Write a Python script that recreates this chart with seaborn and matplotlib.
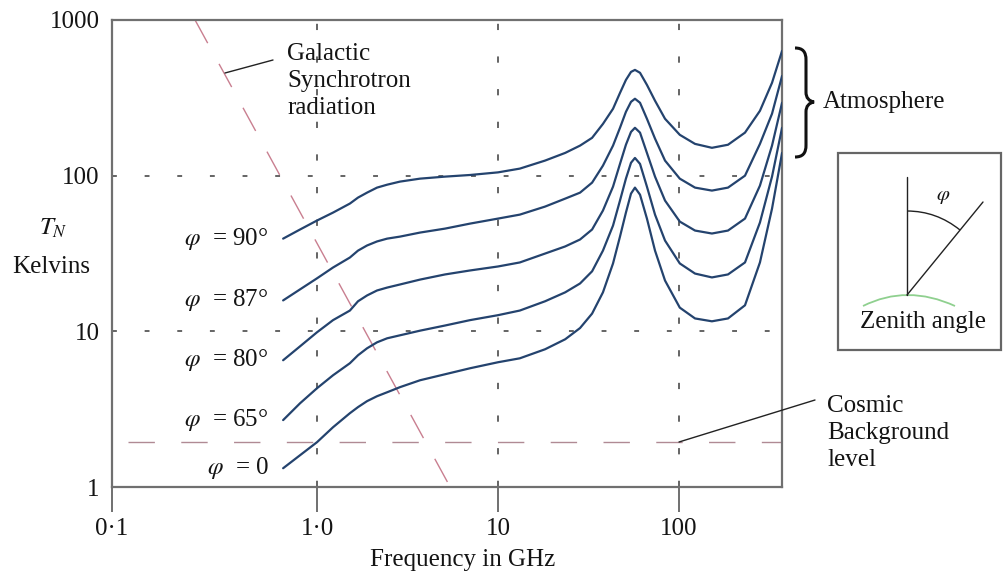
import numpy as np
import pandas as pd
import matplotlib.pyplot as plt
import seaborn as sns
from matplotlib.path import Path
from matplotlib.patches import PathPatch, Rectangle

# frequency points (GHz)
freq = [0.65, 0.806, 1.0, 1.226, 1.52, 1.685, 1.89, 2.146, 2.44, 2.875, 3.71,
        5.10, 7.0, 10.0, 13.2, 18.2, 23.5, 28.4, 33.1, 38.0, 43.2, 47.2, 50.9,
        54.3, 57.1, 60.9, 66.5, 73.7, 83.7, 101, 122.6, 152, 186.5, 231.5,
        280, 326.5, 371]

# sky noise temperature (K) for each zenith angle
temp_90 = [39.4, 45.1, 51.5, 57.9, 66.2, 72.3, 77.8, 83.8, 87.5, 91.6, 95.7,
           98.6, 101, 105, 111, 125, 140, 156, 175, 215, 269, 340, 412,
           464, 478, 458, 383, 303, 232, 183, 160, 151, 158, 189,
           261, 395, 633]
temp_87 = [15.8, 18.6, 21.9, 25.7, 29.8, 33.0, 35.6, 37.8, 39.4, 40.6, 43.1,
           45.7, 49.2, 53.0, 56.2, 63.3, 71.2, 77.8, 90.2, 116, 156, 203, 257,
           298, 312, 294, 232, 173, 125, 95.7, 83.8, 80.2, 83.8, 100,
           160, 250, 437]
temp_80 = [6.52, 8.01, 9.86, 11.8, 13.6, 15.6, 17.0, 18.3, 19.1, 20.0, 21.5,
           23.2, 24.6, 26.1, 27.7, 31.6, 35.1, 38.9, 45.1, 59.7, 85.0, 119, 158,
           191, 203, 189, 140, 98.6, 69.2, 50.7, 44.4, 42.5, 44.4, 53.0,
           86.3, 156, 294]
temp_65 = [2.69, 3.45, 4.31, 5.22, 6.24, 7.02, 7.78, 8.50, 9.02, 9.43, 10.1,
           10.9, 11.8, 12.7, 13.6, 15.6, 17.8, 20.3, 24.3, 33.0, 47.8, 69.2, 95.7,
           121, 130, 119, 85.0, 56.2, 38.3, 27.3, 23.5, 22.2, 23.2, 27.7,
           50.0, 98.6, 203]
temp_0 = [1.32, 1.60, 1.94, 2.42, 2.98, 3.26, 3.56, 3.83, 4.06, 4.38, 4.85,
          5.30, 5.79, 6.33, 6.71, 7.67, 8.89, 10.5, 13.0, 17.8, 27.3, 40.6, 57.9,
          76.7, 83.8, 75.5, 53.0, 33.0, 21.2, 14.2, 12.1, 11.6, 12.1, 14.7,
          27.7, 61.4, 140]

angles = ["90°", "87°", "80°", "65°", "0"]
curves = [temp_90, temp_87, temp_80, temp_65, temp_0]

# galactic synchrotron line and cosmic background level
galactic_freq = [0.212, 5.94]
galactic_temp = [1000, 0.83]
cosmic_freq = [0.09, 371]
cosmic_temp = [1.95, 1.95]

x_ticks = [0.0737, 1, 10, 100]
x_labels = ["0·1", "1·0", "10", "100"]
y_ticks = [1, 10, 100, 1000]
y_labels = ["1", "10", "100", "1000"]

df = pd.concat([pd.DataFrame({"freq": freq, "temp": t, "angle": a})
                for a, t in zip(angles, curves)])

sns.set_style("white")
plt.rcParams["font.family"] = ["Liberation Serif", "DejaVu Serif"]
plt.rcParams["mathtext.fontset"] = "stix"
plt.rcParams["lines.scale_dashes"] = False

line_col = "#24436e"
grid_col = "#3a3a3a"
spine_col = "#707070"
ink = "#141414"

fig = plt.figure(figsize=(10.06, 5.71), dpi=100)
ax = fig.add_axes([112 / 1006, 1 - 487 / 571, 670 / 1006, 467 / 571])
ax.set_xscale("log")
ax.set_yscale("log")
ax.set_xlim(0.0737, 370.7)
ax.set_ylim(1, 1000)

sns.lineplot(data=df, x="freq", y="temp", hue="angle", palette=[line_col] * 5,
             estimator=None, legend=False, lw=1.6, ax=ax, zorder=3)

# dashed grid
for xv in [1, 10, 100]:
    ax.axvline(xv, color=grid_col, lw=1.1, ls=(0, (4.5, 19)), zorder=1)
for yv in [10, 100]:
    ax.axhline(yv, color=grid_col, lw=1.1, ls=(0, (3.5, 20)), zorder=1)

ax.plot(galactic_freq, galactic_temp, color="#c97f90", lw=1.0,
        ls=(0, (19, 17)), clip_on=False, zorder=2)
ax.plot(cosmic_freq, cosmic_temp, color="#b08a94", lw=1.0,
        ls=(0, (19, 19)), zorder=2)

for a, t in zip(angles, curves):
    ax.text(0.54, t[0], "$\\varphi$  = " + a, ha="right", va="center",
            fontsize=18, color=ink)

ax.minorticks_off()
ax.set_xticks(x_ticks)
ax.set_xticklabels(x_labels)
ax.set_yticks(y_ticks)
ax.set_yticklabels(y_labels)
ax.tick_params(axis="x", direction="out", length=18, width=1.4, color=spine_col,
               labelsize=18, pad=4, bottom=True, labelcolor=ink)
ax.tick_params(axis="y", length=0, labelsize=18, pad=9, left=True, labelcolor=ink)
for s in ax.spines.values():
    s.set_color(spine_col)
    s.set_linewidth(1.6)
ax.set_xlabel("Frequency in GHz", fontsize=18, color=ink)
ax.xaxis.set_label_coords(0.524, -0.156)
ax.xaxis.label.set_va("center")
ax.set_ylabel("")

# overlay in pixel coordinates for the annotations
ov = fig.add_axes([0, 0, 1, 1], zorder=5)
ov.set_xlim(0, 1006)
ov.set_ylim(571, 0)
ov.axis("off")
ov.patch.set_alpha(0)

ov.text(53, 228, "$T_N$", ha="center", va="center", fontsize=18, color=ink)
ov.text(51, 267, "Kelvins", ha="center", va="center", fontsize=18, color=ink)

ov.plot([225, 273], [73, 60], color="#222222", lw=1.0)
ov.text(287, 81, "Galactic\nSynchrotron\nradiation", ha="left", va="center",
        fontsize=18, linespacing=1.3, color=ink)

ov.plot([679, 815], [442, 400], color="#222222", lw=1.0)
ov.text(827, 433, "Cosmic\nBackground\nlevel", ha="left", va="center",
        fontsize=18, linespacing=1.28, color=ink)

# brace for the atmosphere
brace = Path([(795, 48), (803, 48), (806, 52), (806, 60), (806, 92),
              (806, 98), (809, 101), (814, 102),
              (809, 103), (806, 106), (806, 112), (806, 145),
              (806, 153), (803, 157), (795, 157)],
             [Path.MOVETO, Path.CURVE4, Path.CURVE4, Path.CURVE4, Path.LINETO,
              Path.CURVE4, Path.CURVE4, Path.CURVE4,
              Path.CURVE4, Path.CURVE4, Path.CURVE4, Path.LINETO,
              Path.CURVE4, Path.CURVE4, Path.CURVE4])
ov.add_patch(PathPatch(brace, fill=False, color="#111111", lw=2.2))
ov.text(823, 102, "Atmosphere", ha="left", va="center", fontsize=18, color=ink)

# zenith angle inset
ov.add_patch(Rectangle((838, 153), 163, 197, fill=False, ec="#666666", lw=1.6))
ov.plot([907, 907], [177, 295], color="#222222", lw=1.0)
ov.plot([907, 983], [295, 202], color="#222222", lw=1.0)
arc = Path([(907, 211), (936.5, 211), (960, 230)],
           [Path.MOVETO, Path.CURVE3, Path.CURVE3])
ov.add_patch(PathPatch(arc, fill=False, color="#222222", lw=1.0))
ground = Path([(863, 306), (907, 284), (955, 306)],
              [Path.MOVETO, Path.CURVE3, Path.CURVE3])
ov.add_patch(PathPatch(ground, fill=False, color="#8fd08f", lw=1.3))
ov.text(943, 197, "$\\varphi$", ha="center", va="center", fontsize=15, color=ink)
ov.text(923, 322, "Zenith angle", ha="center", va="center", fontsize=18, color=ink)

fig.savefig("out.png", dpi=100)
